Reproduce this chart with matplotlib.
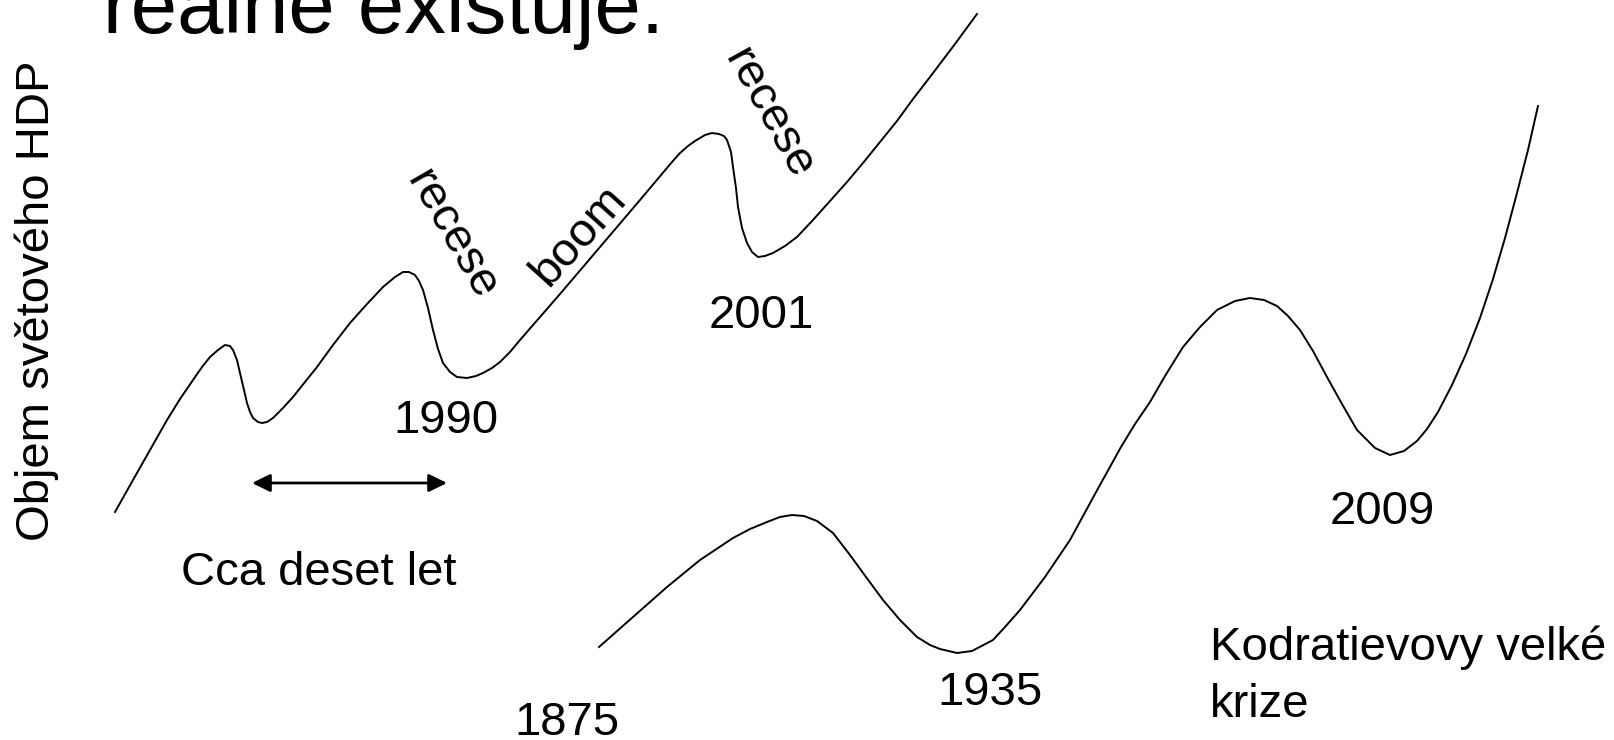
import matplotlib
matplotlib.use("Agg")
import matplotlib.pyplot as plt

plt.rcParams['font.family'] = ['Liberation Sans', 'DejaVu Sans']

# krátké cykly (horní křivka), odečteno z obrázku v pixelech
upper_x = [115, 133, 150, 167, 180, 193, 202, 210, 218, 225, 230, 233, 237, 240, 244, 247,
           250, 253, 258, 262, 267, 273, 283, 293, 305, 317, 333, 350, 367, 383, 395, 403,
           409, 415, 419, 423, 428, 433, 438, 443, 450, 457, 467, 476, 483, 492, 500, 510,
           520, 560, 600, 640, 672, 680, 688, 695, 705, 712, 719, 724, 727, 731, 733, 736,
           738, 742, 747, 752, 758, 765, 773, 785, 797, 813, 830, 847, 863, 880, 897, 913,
           930, 955, 977]
upper_y = [512, 480, 450, 420, 399, 380, 367, 357, 350, 345, 346, 350, 360, 373, 390, 403,
           412, 418, 422, 423, 422, 418, 408, 397, 382, 367, 345, 323, 304, 287, 277, 272,
           272, 275, 281, 290, 308, 330, 349, 363, 372, 377, 378, 376, 373, 368, 362, 352,
           340, 294, 247, 200, 162, 153, 146, 141, 135, 133, 134, 136, 140, 152, 167, 188,
           207, 228, 243, 252, 257, 256, 253, 246, 237, 220, 201, 182, 163, 142, 121, 99,
           77, 44, 14]

# Kondratěvovy vlny (dolní křivka)
lower_x = [599, 633, 667, 700, 733, 750, 767, 780, 792, 804, 817, 833, 850, 866, 883, 900,
           917, 930, 940, 957, 972, 993, 1005, 1020, 1045, 1070, 1095, 1121, 1135, 1150, 1165,
           1183, 1200, 1217, 1235, 1250, 1264, 1277, 1288, 1300, 1313, 1327, 1342, 1357, 1375,
           1390, 1404, 1417, 1427, 1438, 1452, 1466, 1480, 1493, 1505, 1517, 1528, 1538]
lower_y = [647, 617, 587, 560, 538, 529, 522, 517, 515, 516, 521, 533, 555, 577, 600, 620,
           637, 645, 649, 653, 651, 640, 627, 610, 577, 540, 494, 447, 424, 402, 376,
           347, 327, 310, 301, 298, 300, 306, 316, 330, 351, 377, 404, 430, 448,
           455, 451, 441, 429, 412, 385, 354, 318, 279, 238, 193, 150, 106]

fig = plt.figure(figsize=(16.14, 7.40), dpi=100)
ax = fig.add_axes([0, 0, 1, 1])
ax.set_xlim(0, 1614)
ax.set_ylim(740, 0)
ax.axis('off')

ax.plot(upper_x, upper_y, color='black', lw=1.4, solid_joinstyle='round')
ax.plot(lower_x, lower_y, color='black', lw=1.4, solid_joinstyle='round')

ax.annotate('', xy=(447, 483), xytext=(252, 483),
            arrowprops=dict(arrowstyle='<|-|>,head_length=0.55,head_width=0.27',
                            mutation_scale=20, lw=2, color='black',
                            shrinkA=0, shrinkB=0))

fs = 34
ax.text(103, 33, 'reálně existuje.', fontsize=60, ha='left', va='baseline')
ax.text(49, 301, 'Objem světového HDP', fontsize=fs, rotation=90,
        rotation_mode='anchor', ha='center', va='baseline')

ax.text(452, 235, 'recese', fontsize=fs, rotation=-60, rotation_mode='anchor',
        ha='center', va='center')
ax.text(579, 236, 'boom', fontsize=fs, rotation=48, rotation_mode='anchor',
        ha='center', va='center')
ax.text(769, 114, 'recese', fontsize=fs, rotation=-61, rotation_mode='anchor',
        ha='center', va='center')

ax.text(446, 433, '1990', fontsize=fs, ha='center', va='baseline')
ax.text(761, 328, '2001', fontsize=fs, ha='center', va='baseline')
ax.text(1382, 524, '2009', fontsize=fs, ha='center', va='baseline')
ax.text(990, 705, '1935', fontsize=fs, ha='center', va='baseline')
ax.text(567, 735, '1875', fontsize=fs, ha='center', va='baseline')
ax.text(181, 585, 'Cca deset let', fontsize=fs, ha='left', va='baseline')
ax.text(1210, 660, 'Kodratievovy velké', fontsize=fs, ha='left', va='baseline')
ax.text(1210, 717, 'krize', fontsize=fs, ha='left', va='baseline')

fig.savefig('out.png', dpi=100)
